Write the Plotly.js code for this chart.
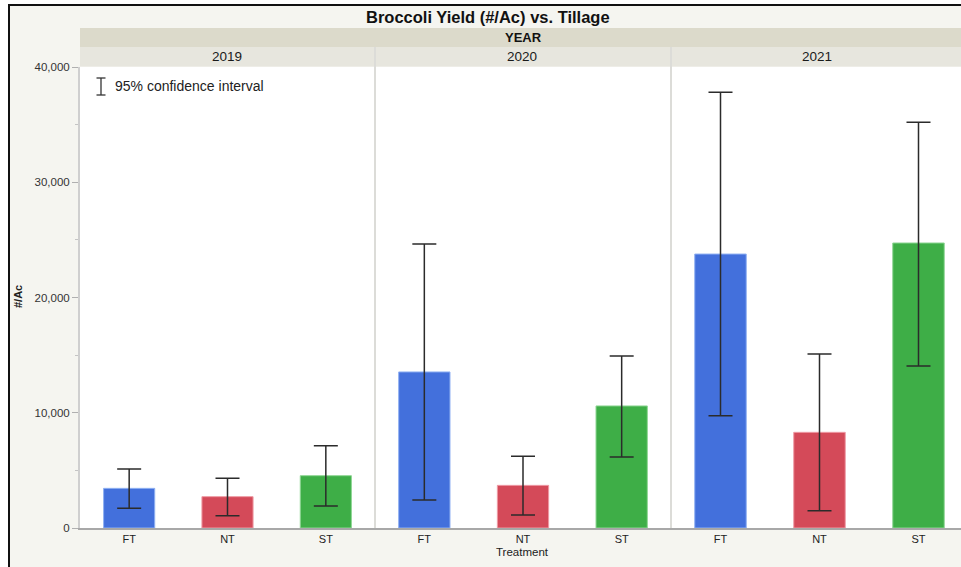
<!DOCTYPE html>
<html>
<head>
<meta charset="utf-8">
<script src="https://cdn.plot.ly/plotly-3.0.1.min.js"></script>
<style>
  html, body { margin: 0; padding: 0; background: #ffffff; overflow: hidden; }
  #chart { width: 961px; height: 567px; }
</style>
</head>
<body>
<div id="chart"></div>
<script>
// Broccoli yield by tillage treatment, one panel per year
const years = ['2019', '2020', '2021'];
const treatments = ['FT', 'NT', 'ST'];

// mean yield (#/Ac) per year, listed FT, NT, ST
const mean2019 = [3440, 2720, 4540];
const mean2020 = [13540, 3700, 10590];
const mean2021 = [23770, 8300, 24730];

// 95% confidence interval bounds
const upper2019 = [5120, 4310, 7140];
const lower2019 = [1710, 1070, 1910];
const upper2020 = [24640, 6220, 14920];
const lower2020 = [2430, 1130, 6160];
const upper2021 = [37800, 15100, 35200];
const lower2021 = [9740, 1500, 14060];

const yTicks = [0, 10000, 20000, 30000, 40000];

const treatmentColors = ['#4370dc', '#d44a59', '#3eae47'];
const treatmentEdges = ['#8fb0f2', '#ee9aa4', '#8fd694'];

// plot-area pixel frame and converters to paper coordinates
const L = 80, R = 961, T = 67, B = 528;
const px = x => (x - L) / (R - L);
const py = y => (B - y) / (B - T);

const panelEdges = [80, 375, 671, 968];

const means = [mean2019, mean2020, mean2021];
const uppers = [upper2019, upper2020, upper2021];
const lowers = [lower2019, lower2020, lower2021];

const traces = years.map((yr, i) => ({
  type: 'bar',
  name: yr,
  x: treatments,
  y: means[i],
  xaxis: i === 0 ? 'x' : 'x' + (i + 1),
  yaxis: 'y',
  width: 0.52,
  marker: { color: treatmentColors, line: { color: treatmentEdges, width: 1 } },
  error_y: {
    type: 'data',
    symmetric: false,
    array: uppers[i].map((u, k) => u - means[i][k]),
    arrayminus: lowers[i].map((l, k) => means[i][k] - l),
    color: '#2b2b2b',
    thickness: 1.5,
    width: 12
  },
  hoverinfo: 'x+y'
}));

const font = 'Liberation Sans, Arial, sans-serif';

function xAxis(i) {
  const x0 = px(panelEdges[i]);
  const x1 = Math.min(1, px(panelEdges[i + 1]));
  const visible = (Math.min(R, panelEdges[i + 1]) - panelEdges[i]) / (panelEdges[i + 1] - panelEdges[i]);
  return {
    domain: [x0, x1],
    anchor: 'y',
    type: 'category',
    range: [-0.5, -0.5 + 3 * visible],
    showgrid: false,
    zeroline: false,
    showline: true,
    linecolor: '#a8a8a8',
    linewidth: 1.5,
    ticks: '',
    tickfont: { family: font, size: 11, color: '#222' },
    fixedrange: true
  };
}

const shapes = [
  // framed background of the report panel
  { type: 'rect', xref: 'paper', yref: 'paper', layer: 'below',
    x0: px(9), x1: px(990), y0: py(5), y1: py(600),
    fillcolor: '#f5f5f0', line: { color: '#111', width: 2 } },
  // white plotting area
  { type: 'rect', xref: 'paper', yref: 'paper', layer: 'below',
    x0: 0, x1: px(990), y0: 0, y1: 1,
    fillcolor: '#ffffff', line: { width: 0 } },
  // YEAR header band
  { type: 'rect', xref: 'paper', yref: 'paper', layer: 'below',
    x0: px(80), x1: px(990), y0: py(47), y1: py(28),
    fillcolor: '#dcdacb', line: { width: 0 } },
  // year label band
  { type: 'rect', xref: 'paper', yref: 'paper', layer: 'below',
    x0: px(80), x1: px(990), y0: py(66.5), y1: py(47),
    fillcolor: '#e7e6de', line: { width: 0 } },
  // panel dividers
  { type: 'line', xref: 'paper', yref: 'paper', layer: 'below', x0: px(375), x1: px(375), y0: py(47), y1: 0,
    line: { color: '#dcdcd8', width: 2 } },
  { type: 'line', xref: 'paper', yref: 'paper', layer: 'below', x0: px(671), x1: px(671), y0: py(47), y1: 0,
    line: { color: '#dcdcd8', width: 2 } },
  // confidence-interval key glyph
  { type: 'line', xref: 'paper', yref: 'paper', x0: px(101), x1: px(101), y0: py(78), y1: py(95),
    line: { color: '#333', width: 1.3 } },
  { type: 'line', xref: 'paper', yref: 'paper', x0: px(96.5), x1: px(105.5), y0: py(78), y1: py(78),
    line: { color: '#333', width: 1.3 } },
  { type: 'line', xref: 'paper', yref: 'paper', x0: px(96.5), x1: px(105.5), y0: py(95), y1: py(95),
    line: { color: '#333', width: 1.3 } }
];

const annotations = [
  { text: '<b>Broccoli Yield (#/Ac) vs. Tillage</b>', xref: 'paper', yref: 'paper',
    x: px(488), y: py(17.5), xanchor: 'center', yanchor: 'middle', showarrow: false,
    font: { family: font, size: 16.5, color: '#111' } },
  { text: '<b>YEAR</b>', xref: 'paper', yref: 'paper',
    x: px(523), y: py(37.5), xanchor: 'center', yanchor: 'middle', showarrow: false,
    font: { family: font, size: 13, color: '#111' } },
  { text: '95% confidence interval', xref: 'paper', yref: 'paper',
    x: px(113), y: py(86), xanchor: 'left', yanchor: 'middle', showarrow: false,
    font: { family: font, size: 14, color: '#222' } },
  { text: 'Treatment', xref: 'paper', yref: 'paper',
    x: px(522), y: py(552), xanchor: 'center', yanchor: 'middle', showarrow: false,
    font: { family: font, size: 11.5, color: '#222' } },
  { text: '<b>#/Ac</b>', xref: 'paper', yref: 'paper', textangle: -90,
    x: px(18), y: py(297), xanchor: 'center', yanchor: 'middle', showarrow: false,
    font: { family: font, size: 11, color: '#222' } }
].concat(years.map((yr, i) => ({
  text: yr, xref: 'paper', yref: 'paper',
  x: px([227, 522, 817][i]), y: py(57), xanchor: 'center', yanchor: 'middle', showarrow: false,
  font: { family: font, size: 13.5, color: '#1a1a1a' }
})));

const layout = {
  width: 961,
  height: 567,
  margin: { l: L, r: 0, t: T, b: 567 - B, pad: 0 },
  paper_bgcolor: '#ffffff',
  plot_bgcolor: '#ffffff',
  showlegend: false,
  bargap: 0,
  xaxis: xAxis(0),
  xaxis2: xAxis(1),
  xaxis3: xAxis(2),
  yaxis: {
    range: [0, 40000],
    tickvals: yTicks,
    tickformat: ',',
    ticks: 'outside',
    ticklen: 6,
    tickcolor: '#b0b0b0',
    tickwidth: 1,
    minor: { dtick: 5000, tick0: 0, ticks: 'outside', ticklen: 3, tickcolor: '#c4c4c4' },
    showgrid: false,
    zeroline: false,
    showline: true,
    linecolor: '#cfcfcf',
    linewidth: 2,
    tickfont: { family: font, size: 11.5, color: '#333' },
    fixedrange: true
  },
  shapes: shapes,
  annotations: annotations
};

Plotly.newPlot('chart', traces, layout, { displayModeBar: false, staticPlot: true });
</script>
</body>
</html>
